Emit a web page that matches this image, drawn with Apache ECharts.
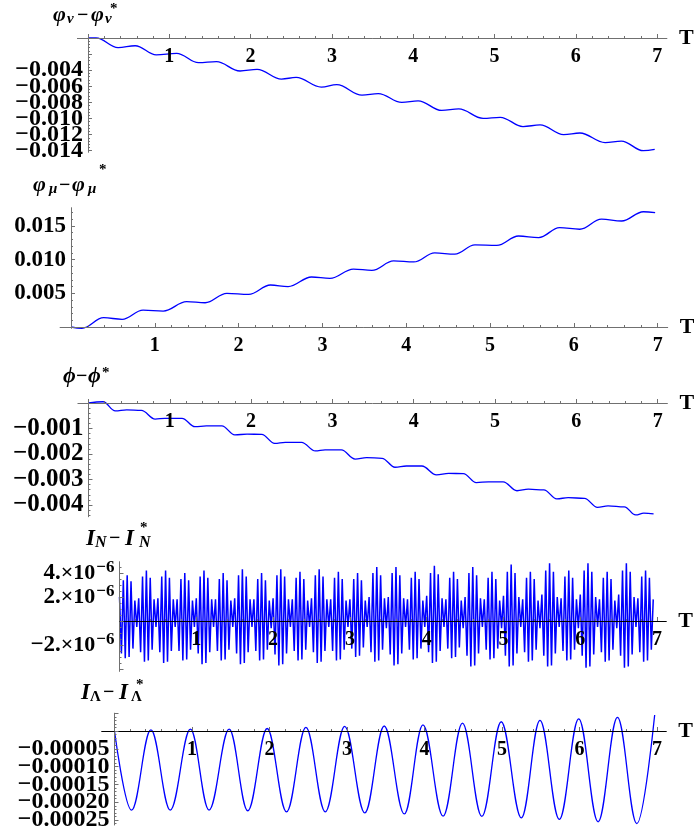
<!DOCTYPE html>
<html><head><meta charset="utf-8">
<script src="https://cdn.jsdelivr.net/npm/echarts@6/dist/echarts.min.js"></script>
<style>html,body{margin:0;padding:0;background:#fff}#c{width:694px;height:838px}</style>
</head><body><div id="c"></div>
<script>
// ---------------- DATA ----------------
// Panel 1: phi_nu - phi_nu*
const phiNuT = [0,0.1,0.37,0.58,0.84,1.09,1.36,1.58,1.87,2.08,2.38,2.56,2.87,3.06,3.37,3.57,3.86,4.06,4.35,4.56,4.86,5.07,5.35,5.56,5.85,6.05,6.36,6.56,6.83,6.97];
const phiNuV = [0,0.00002,-0.0012,-0.00096,-0.0021,-0.0019,-0.00307,-0.00294,-0.0041,-0.0039,-0.0051,-0.0049,-0.0061,-0.0058,-0.0071,-0.0069,-0.0080,-0.0078,-0.0090,-0.0088,-0.00998,-0.00985,-0.0110,-0.0108,-0.0120,-0.0118,-0.0130,-0.0128,-0.0140,-0.01383];
// Panel 2: phi_mu - phi_mu*
const phiMuT = [0,0.13,0.39,0.61,0.86,1.1,1.38,1.6,1.86,2.12,2.38,2.59,2.87,3.09,3.37,3.59,3.85,4.09,4.34,4.58,4.82,5.08,5.34,5.58,5.83,6.07,6.33,6.57,6.83,6.97];
const phiMuV = [0,-0.0002,0.00138,0.00114,0.0025,0.00237,0.00376,0.0036,0.0050,0.00485,0.00623,0.0060,0.00742,0.00722,0.0086,0.0084,0.0098,0.00965,0.0110,0.0108,0.01217,0.0121,0.0135,0.01326,0.01474,0.0145,0.0160,0.01573,0.0171,0.01696];
// Panel 3: phi - phi*
const phiT = [0,0.18,0.33,0.47,0.65,0.82,0.94,1.15,1.31,1.45,1.64,1.8,1.95,2.13,2.29,2.42,2.62,2.79,2.91,3.11,3.28,3.42,3.61,3.77,3.91,4.1,4.28,4.43,4.61,4.77,4.92,5.1,5.27,5.41,5.6,5.76,5.9,6.1,6.26,6.39,6.59,6.73,6.83,6.95];
const phiV = [0,0.00005,-0.00031,-0.00027,-0.00029,-0.00063,-0.0006,-0.0006,-0.00093,-0.0009,-0.0009,-0.00125,-0.00122,-0.00123,-0.00158,-0.00154,-0.00154,-0.00188,-0.00184,-0.00184,-0.0022,-0.00214,-0.00217,-0.00252,-0.00247,-0.00247,-0.00282,-0.00276,-0.00277,-0.00312,-0.00309,-0.00309,-0.00344,-0.00338,-0.00341,-0.00376,-0.00371,-0.00374,-0.00409,-0.00403,-0.00407,-0.00439,-0.00432,-0.00435];
// Panel 4: I_N - I_N*  (values in units of 1e-7, sampled every IN_DT from t=0)
const IN_UNIT = 1e-7;
const IN_DT = 0.025;
const iNV = [
 20,-27,34,-31,38,-30,33,-23,17,
 -5,19,-26,37,-34,42,-33,36,-24,18,
 -5,19,-26,37,-35,42,-34,36,-25,18,
 -5,18,-25,35,-33,40,-32,34,-24,17,
 -5,19,-27,37,-36,42,-35,36,-26,18,
 -5,18,-25,35,-33,40,-32,34,-24,17,
 -5,19,-27,38,-36,43,-35,37,-26,18,
 -5,18,-25,35,-33,40,-32,34,-24,17,
 -6,19,-28,38,-37,43,-36,37,-27,18,
 -5,18,-25,36,-33,41,-32,35,-24,17,
 -5,19,-26,38,-35,43,-34,37,-25,18,
 -5,18,-25,36,-33,41,-32,35,-24,17,
 -5,18,-23,35,-30,40,-29,34,-22,17,
 -5,20,-26,40,-34,45,-33,38,-24,19,
 -6,20,-28,40,-37,45,-36,38,-27,19,
 -5,18,-24,36,-32,41,-31,35,-23,17,
 -5,21,-26,40,-35,46,-34,39,-25,19,
 -5,18,-23,36,-31,41,-30,35,-22,17,
 -6,20,-29,40,-38,45,-37,38,-27,19,
 -5,18,-24,36,-32,41,-31,35,-23,17,
 -6,21,-29,41,-38,47,-37,40,-27,20,
 -5,18,-26,36,-34,41,-33,35,-24,17,
 -6,22,-29,42,-38,48,-37,41,-27,20,
 -5,19,-25,37,-33,42,-32,36,-24,18,
 -6,22,-29,42,-39,48,-38,41,-28,20,
 -5,18,-26,36,-34,41,-33,35,-24,17,
 -6,22,-29,42,-39,48,-38,41,-28,20,
 -5,19,-26,37,-34,42,-33,36,-24,18
];
// Panel 5: I_Lambda - I_Lambda*
const iLT = [0,0.22,0.47,0.72,0.98,1.22,1.48,1.72,1.97,2.22,2.47,2.72,2.97,3.23,3.48,3.74,3.98,4.24,4.49,4.74,4.99,5.25,5.49,5.74,5.99,6.24,6.49,6.74,6.97];
const iLV = [0,-0.000222,0.000003,-0.000222,0.000005,-0.000222,0.000005,-0.000224,0.000007,-0.000227,0.00001,-0.000227,0.000013,-0.00023,0.000014,-0.000233,0.000017,-0.000239,0.000022,-0.00024,0.000026,-0.000244,0.00003,-0.000248,0.000034,-0.000255,0.000038,-0.00026,0.000045];

// Tick labels
const xTickLabels = [1,2,3,4,5,6,7];
const xMajorTicks = [0,1,2,3,4,5,6,7];
const y1Labels = [-0.004,-0.006,-0.008,-0.010,-0.012,-0.014];
const y1Major = [0,-0.002,-0.004,-0.006,-0.008,-0.010,-0.012,-0.014];
const y2Labels = [0.005,0.010,0.015];
const y2Major = [0,0.005,0.010,0.015];
const y3Labels = [-0.001,-0.002,-0.003,-0.004];
const y3Major = [0,-0.001,-0.002,-0.003,-0.004];
const y4Labels = [4e-6,2e-6,-2e-6];
const y4Major = [-4e-6,-2e-6,0,2e-6,4e-6];
const y5Labels = [-0.00005,-0.00010,-0.00015,-0.00020,-0.00025];
const y5Major = [0.00005,0,-0.00005,-0.00010,-0.00015,-0.00020,-0.00025];

// ---------------- STYLE / LAYOUT ----------------
const FONT = "'Liberation Serif','Times New Roman','DejaVu Serif',serif";
const GRAY = '#707070';
const BLUE = '#0000ff';
const X_MAX = 7.12;

function zip(ts, vs){ return ts.map((t,i)=>[t, vs[i]]); }
function tickRange(lo, hi, step, skip){
  const out=[]; const n=Math.round((hi-lo)/step);
  for(let i=0;i<=n;i++){ const v=+(lo+i*step).toFixed(10);
    if(!skip.some(s=>Math.abs(s-v)<step*1e-3)) out.push(v); }
  return out;
}
function fmtDec(d){ return v => (v<0?'\u2212':'') + Math.abs(v).toFixed(d); }
const xMinor = tickRange(0, 7, 0.2, xMajorTicks);

const panels = [
  {grid:{left:77.4, top:36.4, width:589.5, height:115.9}, xMin:-0.13, yMin:-0.0142, yMax:0.0002,
   yLabels:y1Labels, yMajor:y1Major, yMinor:tickRange(-0.014,0,0.0004,y1Major), fmt:fmtDec(3), fs:24,
   xLine:GRAY, data:zip(phiNuT,phiNuV), smooth:true},
  {grid:{left:60.1, top:207.7, width:607.6, height:120.65}, xMin:-0.13, yMin:-0.0002, yMax:0.0177,
   yLabels:y2Labels, yMajor:y2Major, yMinor:tickRange(0,0.017,0.001,y2Major), fmt:fmtDec(3), fs:23,
   xLine:GRAY, data:zip(phiMuT,phiMuV), smooth:true},
  {grid:{left:77.9, top:400.45, width:589.5, height:116.3}, xMin:-0.13, yMin:-0.00446, yMax:0.0001,
   yLabels:y3Labels, yMajor:y3Major, yMinor:tickRange(-0.0044,0,0.0002,y3Major), fmt:fmtDec(3), fs:25,
   xLine:GRAY, data:zip(phiT,phiV), smooth:true},
  {grid:{left:119.5, top:561.7, width:546.8, height:109.7}, xMin:0, yMin:-4.2e-6, yMax:4.94e-6,
   yLabels:y4Labels, yMajor:y4Major, yMinor:tickRange(-4e-6,4.5e-6,0.5e-6,y4Major),
   fmt:v=>{const m=Math.round(v/1e-6); return '{b|'+(m<0?'\u2212':'')+Math.abs(m)+'.}{m|\u00d710}{s|\u22126}';}, fs:22,
   rich:{b:{fontFamily:FONT,fontWeight:'bold',fontSize:23,lineHeight:28,color:'#000'},
         m:{fontFamily:FONT,fontWeight:'bold',fontSize:22,lineHeight:28,color:'#000'},
         s:{fontFamily:FONT,fontWeight:'bold',fontSize:17,lineHeight:17,verticalAlign:'top',color:'#000',padding:[0,0,0,1]}},
   xLine:'#000', data:iNV.map((v,i)=>[+(i*IN_DT).toFixed(4), v*IN_UNIT]), smooth:false, lw:1.5},
  {grid:{left:101.7, top:713.2, width:564.6, height:111.8}, xMin:-0.165, yMin:-0.000264, yMax:0.00005,
   yLabels:y5Labels, yMajor:y5Major, yMinor:tickRange(-0.00026,0.00004,0.00001,y5Major), fmt:fmtDec(5), fs:24,
   xLine:'#000', data:zip(iLT,iLV), smooth:true}
];

const grid=[], xAxis=[], yAxis=[], series=[];
function yLabelAxis(gi, p, off, values, withLine){
  const lab = {show:true, customValues:values, margin:5, hideOverlap:false, showMinLabel:true, showMaxLabel:true,
    fontFamily:FONT, fontSize:p.fs, fontWeight:'bold', color:'#000', formatter:p.fmt};
  if (p.rich) lab.rich = p.rich;
  return {gridIndex:gi, type:'value', min:p.yMin, max:p.yMax, position:'left', offset:off, z:5,
    axisLine:{show:withLine, onZero:false, lineStyle:{color:GRAY, width:1}},
    axisTick:{show:withLine, inside:true, length:4, customValues:p.yMajor, lineStyle:{color:GRAY}},
    axisLabel:lab, splitLine:{show:false}};
}
panels.forEach((p,k)=>{
  const G = p.grid;
  const zeroY = G.top + G.height * p.yMax / (p.yMax - p.yMin);
  const zeroX = G.left + G.width * (0 - p.xMin) / (X_MAX - p.xMin);
  const botOff = zeroY - (G.top + G.height);   // bottom axis up to value 0
  const topOff = G.top - zeroY;                // top axis down to value 0
  const leftOff = G.left - zeroX;              // left axis right to t=0
  const rightOff = zeroX - (G.left + G.width); // right axis left to t=0
  const labsA = p.yLabels.filter((v,i)=>i%2===0);
  const labsB = p.yLabels.filter((v,i)=>i%2===1);

  // grid for data + x axes + first half of y labels
  const gi = grid.length;
  grid.push(Object.assign({containLabel:false, outerBoundsMode:'none'}, G));
  const xi = xAxis.length, yi = yAxis.length;
  xAxis.push({gridIndex:gi, type:'value', min:p.xMin, max:X_MAX, position:'bottom', offset:botOff, z:5,
    axisLine:{show:true, onZero:false, lineStyle:{color:p.xLine, width:1}},
    axisTick:{show:true, inside:true, length:4, customValues:xMajorTicks, lineStyle:{color:GRAY}},
    axisLabel:{show:true, customValues:xTickLabels, margin:9, hideOverlap:false, showMinLabel:true, showMaxLabel:true,
      fontFamily:FONT, fontSize:20, fontWeight:'bold', color:'#000', formatter:v=>String(Math.round(v))},
    splitLine:{show:false}, minorTick:{show:false},
    name:'T', nameLocation:'end', nameGap:12,
    nameTextStyle:{fontFamily:FONT, fontSize:22, fontWeight:'bold', color:'#000'}});
  xAxis.push({gridIndex:gi, type:'value', min:p.xMin, max:X_MAX, position:'top', offset:topOff, z:5,
    axisLine:{show:false, onZero:false},
    axisTick:{show:true, inside:false, length:2, customValues:xMinor, lineStyle:{color:GRAY}},
    axisLabel:{show:false}, splitLine:{show:false}});
  yAxis.push(yLabelAxis(gi, p, leftOff, labsA, true));
  yAxis.push({gridIndex:gi, type:'value', min:p.yMin, max:p.yMax, position:'right', offset:rightOff, z:5,
    axisLine:{show:false, onZero:false},
    axisTick:{show:true, inside:false, length:2, customValues:p.yMinor, lineStyle:{color:GRAY}},
    axisLabel:{show:false}, splitLine:{show:false}});
  series.push({type:'line', xAxisIndex:xi, yAxisIndex:yi, data:p.data, showSymbol:false, symbol:'none',
    smooth:p.smooth?0.38:false, smoothMonotone:p.smooth?'x':undefined, clip:false,
    lineStyle:{color:BLUE, width:p.lw||1.3}, z:2, animation:false});

  // twin grid carrying the second half of the y labels (avoids label-overlap hiding)
  if (labsB.length) {
    const gj = grid.length;
    grid.push(Object.assign({containLabel:false, outerBoundsMode:'none'}, G));
    xAxis.push({gridIndex:gj, type:'value', min:p.xMin, max:X_MAX, show:false});
    yAxis.push(yLabelAxis(gj, p, leftOff, labsB, false));
  }
});

// Titles (per glyph)
function g(x, yc, text, size, italic){
  return {type:'text', x:x, y:yc, z:10, style:{text:text, fontFamily:FONT, fontSize:size, fontWeight:'bold',
    fontStyle:italic?'italic':'normal', fill:'#000', verticalAlign:'middle', align:'left'}};
}
const graphic = [
  g(53,15.5,'\u03c6',22,true), g(67,19.5,'\u03bd',15,true), g(77,16,'\u2212',20,false), g(91,15.5,'\u03c6',22,true), g(105,19.5,'\u03bd',15,true), g(110,9,'*',15,false),
  g(33,185.5,'\u03c6',22,true), g(49,189,'\u03bc',15,true), g(59,186,'\u2212',20,false), g(72,185.5,'\u03c6',22,true), g(88,189,'\u03bc',15,true), g(99,170,'*',15,false),
  g(63,376.5,'\u03d5',22,true), g(76,377,'\u2212',20,false), g(88,376.5,'\u03d5',22,true), g(102,373,'*',15,false),
  g(86,539,'I',23,true), g(95,543,'N',16,true), g(109,538.5,'\u2212',20,false), g(125,539,'I',23,true), g(139,543,'N',16,true), g(140,528.5,'*',15,false),
  g(81,693,'I',23,true), g(90,697,'\u039b',15,false), g(103,693,'\u2212',20,false), g(119,693,'I',23,true), g(131,697,'\u039b',15,false), g(136,685,'*',15,false)
];

const chart = echarts.init(document.getElementById('c'), null, {renderer:'canvas'});
chart.setOption({animation:false, backgroundColor:'#fff', grid, xAxis, yAxis, series, graphic});
</script></body></html>
